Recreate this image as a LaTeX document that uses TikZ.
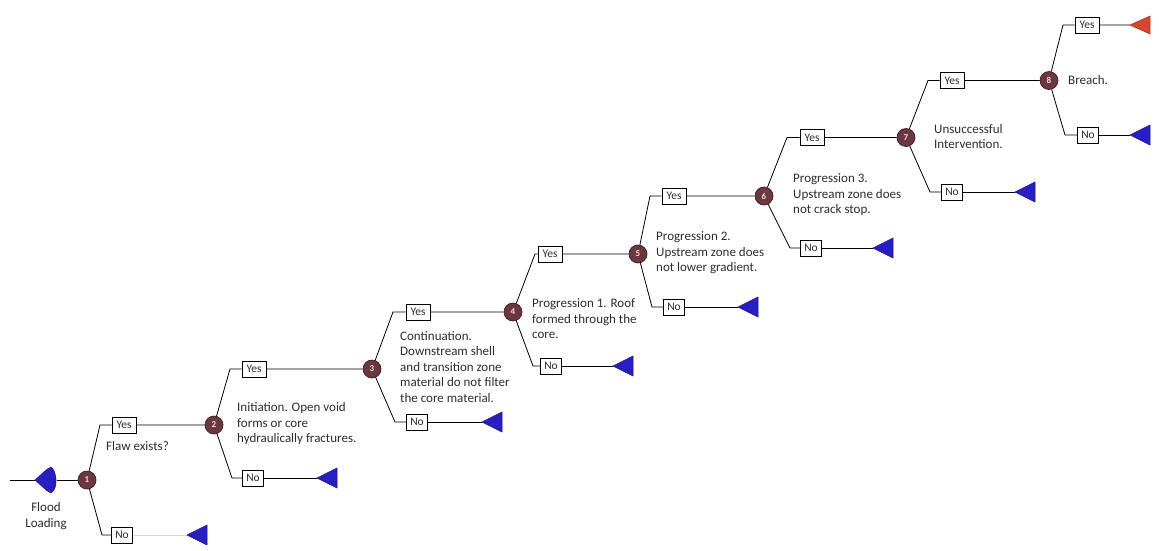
\documentclass[tikz,border=0pt]{standalone}
\usepackage{fontspec}
\setmainfont{Carlito}
\definecolor{nodefill}{RGB}{108,56,64}
\definecolor{nodeedge}{RGB}{60,30,35}
\definecolor{numcol}{RGB}{245,215,222}
\definecolor{termblue}{RGB}{40,30,195}
\definecolor{termedge}{RGB}{25,20,120}
\definecolor{termred}{RGB}{215,70,45}
\definecolor{textcol}{RGB}{45,45,45}
\begin{document}
\begin{tikzpicture}[x=1pt,y=-1pt,
  chance/.style={circle,fill=nodefill,draw=nodeedge,line width=0.7pt,inner sep=0pt,minimum size=18pt,text=numcol,font=\fontsize{9}{9}\selectfont\bfseries},
  choice/.style={draw=black,line width=0.8pt,fill=white,minimum height=16pt,inner sep=0pt,text=textcol,font=\fontsize{11.5}{11.5}\selectfont},
  yesbox/.style={choice,minimum width=24pt},
  nobox/.style={choice,minimum width=21pt},
  branch/.style={line width=0.8pt,draw=black},
  faint/.style={line width=0.4pt,draw=black!15},
  desc/.style={anchor=west,align=left,font=\fontsize{13}{15.5}\selectfont,text=textcol,inner sep=0pt},
  bluetri/.style={fill=termblue,draw=termedge,line width=0.5pt},
  redtri/.style={fill=termred,draw=termred!70!black,line width=0.5pt}
]
\useasboundingbox (0,0) rectangle (1159,550);

% chance nodes
\node[chance] (n1) at (87,480) {1};
\node[chance] (n2) at (214,425) {2};
\node[chance] (n3) at (372,369) {3};
\node[chance] (n4) at (513,312) {4};
\node[chance] (n5) at (638,254) {5};
\node[chance] (n6) at (764,196) {6};
\node[chance] (n7) at (906,137.5) {7};
\node[chance] (n8) at (1049,80.5) {8};

% yes boxes
\node[yesbox] (y1) at (124,425) {Yes};
\node[yesbox] (y2) at (254,369) {Yes};
\node[yesbox] (y3) at (418,312) {Yes};
\node[yesbox] (y4) at (550,254) {Yes};
\node[yesbox] (y5) at (674,196) {Yes};
\node[yesbox] (y6) at (812,137.5) {Yes};
\node[yesbox] (y7) at (952,80.5) {Yes};
\node[yesbox] (y8) at (1087,25) {Yes};

% no boxes
\node[nobox] (no1) at (122,535) {No};
\node[nobox] (no2) at (253,478) {No};
\node[nobox] (no3) at (417,422) {No};
\node[nobox] (no4) at (551,366) {No};
\node[nobox] (no5) at (674,307) {No};
\node[nobox] (no6) at (811,248) {No};
\node[nobox] (no7) at (952,192) {No};
\node[nobox] (no8) at (1088,135) {No};

% elbows
\coordinate (ey1) at (100,425);  \coordinate (en1) at (102,535);
\coordinate (ey2) at (230,369);  \coordinate (en2) at (232,478);
\coordinate (ey3) at (393,312);  \coordinate (en3) at (395,422);
\coordinate (ey4) at (535,254);  \coordinate (en4) at (533,366);
\coordinate (ey5) at (650,196);  \coordinate (en5) at (652,307);
\coordinate (ey6) at (787,137.5);\coordinate (en6) at (790,248);
\coordinate (ey7) at (928,80.5); \coordinate (en7) at (930,192);
\coordinate (ey8) at (1063,25);  \coordinate (en8) at (1065,135);

% terminal tips
\coordinate (t1) at (187,535);
\coordinate (t2) at (317,478);
\coordinate (t3) at (482,422);
\coordinate (t4) at (613,366);
\coordinate (t5) at (738,307);
\coordinate (t6) at (873,248);
\coordinate (t7) at (1015,192);
\coordinate (t8) at (1130,135);
\coordinate (tr) at (1130,25);

% branches
\foreach \i/\j in {1/2,2/3,3/4,4/5,5/6,6/7,7/8}{
  \draw[branch] (n\i) -- (ey\i) -- (y\i) (y\i) -- (n\j);
}
\draw[branch] (n8) -- (ey8) -- (y8) (y8) -- (tr);
\foreach \i in {1,...,8}{
  \draw[branch] (n\i) -- (en\i) -- (no\i);
}
\draw[faint] (no1) -- (t1);
\foreach \i in {2,...,8}{
  \draw[branch] (no\i) -- (t\i);
}

% terminal triangles
\foreach \i in {1,...,8}{
  \fill[bluetri] (t\i) -- ++(20,-10) -- ++(0,20) -- cycle;
}
\fill[redtri] (tr) -- ++(20,-9) -- ++(0,18) -- cycle;

% start: flood loading
\coordinate (start) at (10,480);
\coordinate (fl) at (35,480);
\coordinate (fr) at (57,480);
\fill[bluetri] (fl) .. controls (41,475) and (46,469) .. (51,467)
  .. controls (57,471) and (58.5,489) .. (51,493)
  .. controls (46,491) and (41,485) .. (fl) -- cycle;
\draw[branch] (start) -- (fl);
\draw[branch] (fr) -- (n1);

% texts
\node[desc,anchor=center,align=center] (flood) at (46,516) {Flood\\Loading};
\node[desc] (d1) at (106,446) {Flaw exists?};
\node[desc] (d2) at (237,424) {Initiation. Open void\\forms or core\\hydraulically fractures.};
\node[desc] (d3) at (400,367) {Continuation.\\Downstream shell\\and transition zone\\material do not filter\\the core material.};
\node[desc] (d4) at (532,319) {Progression 1. Roof\\formed through the\\core.};
\node[desc] (d5) at (656,253) {Progression 2.\\Upstream zone does\\not lower gradient.};
\node[desc] (d6) at (793,195) {Progression 3.\\Upstream zone does\\not crack stop.};
\node[desc] (d7) at (934,136.5) {Unsuccessful\\Intervention.};
\node[desc] (d8) at (1068,80) {Breach.};
\end{tikzpicture}
\end{document}
